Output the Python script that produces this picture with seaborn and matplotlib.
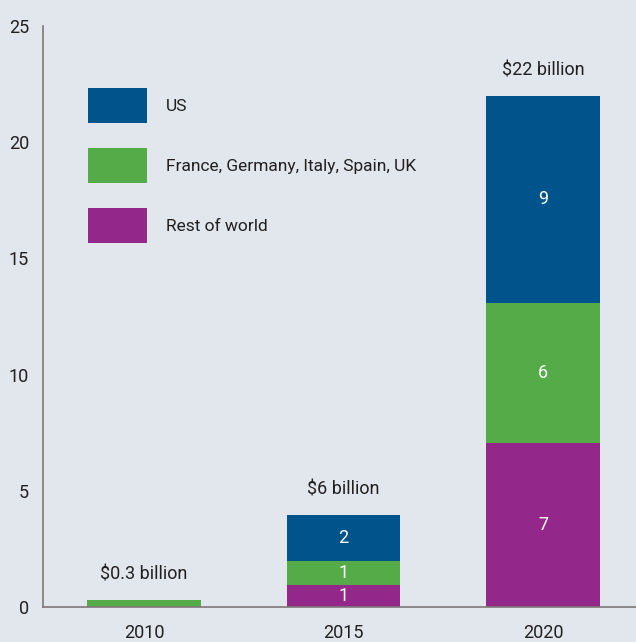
import matplotlib
matplotlib.use("Agg")
import matplotlib.pyplot as plt
import seaborn as sns
import numpy as np
from matplotlib.patches import Patch

years = ["2010", "2015", "2020"]
series_names = ["Rest of world", "France, Germany, Italy, Spain, UK", "US"]
rest = [0.0, 0.95, 7.05]
europe = [0.3, 1.05, 6.05]
us = [0.0, 1.95, 8.9]
rest_labels = ["", "1", "7"]
europe_labels = ["", "1", "6"]
us_labels = ["", "2", "9"]
totals = ["$0.3 billion", "$6 billion", "$22 billion"]
yticks = [0, 5, 10, 15, 20, 25]

colors = ["#93278a", "#55ab48", "#00548c"]
bg = "#e1e7ec"
text_c = "#231f20"

sns.set_theme(style="white")
plt.rcParams["font.family"] = ["Roboto", "DejaVu Sans"]

fig = plt.figure(figsize=(6.36, 6.42), dpi=100, facecolor=bg)
ax = fig.add_axes([43/636, 1-607/642, 1-43/636, (607-26)/642])
ax.set_facecolor(bg)

series = [rest, europe, us]
labels = [rest_labels, europe_labels, us_labels]
bottom = np.zeros(len(years))
for name, vals, col in zip(series_names, series, colors):
    sns.barplot(x=years, y=vals, bottom=bottom.copy(), color=col, width=0.57,
                errorbar=None, ax=ax, saturation=1, linewidth=0)
    bottom = bottom + np.array(vals)

for cont, labs in zip(ax.containers, labels):
    ax.bar_label(cont, labels=labs, label_type="center", color="white", fontsize=13)
ax.bar_label(ax.containers[-1], labels=totals, label_type="edge", padding=12,
             color=text_c, fontsize=13)

ax.set_ylim(0, 25)
ax.set_xlim(-0.506, 2.466)
ax.set_yticks(yticks)
ax.set_yticklabels([str(t) for t in yticks])
ax.tick_params(axis="y", length=0, pad=10, labelsize=13, labelcolor=text_c)
ax.tick_params(axis="x", length=0, pad=12, labelsize=13, labelcolor=text_c)
ax.set_xlabel("")
ax.set_ylabel("")
for s in ["top", "right"]:
    ax.spines[s].set_visible(False)
for s in ["left", "bottom"]:
    ax.spines[s].set_color("#7f7779")
    ax.spines[s].set_linewidth(1.2)

handles = [Patch(facecolor=c, edgecolor="none") for c in colors[::-1]]
fs = 12.5
px = fs * 100 / 72
leg = ax.legend(handles, series_names[::-1], loc="upper left",
                bbox_to_anchor=(88/636, 1-88/642), bbox_transform=fig.transFigure,
                frameon=False, borderpad=0, borderaxespad=0, fontsize=fs,
                handlelength=59/px, handleheight=2.1*35/27,
                handletextpad=19/px, labelspacing=25/px)
for t in leg.get_texts():
    t.set_color(text_c)

fig.savefig("out.png", dpi=100, facecolor=bg)
